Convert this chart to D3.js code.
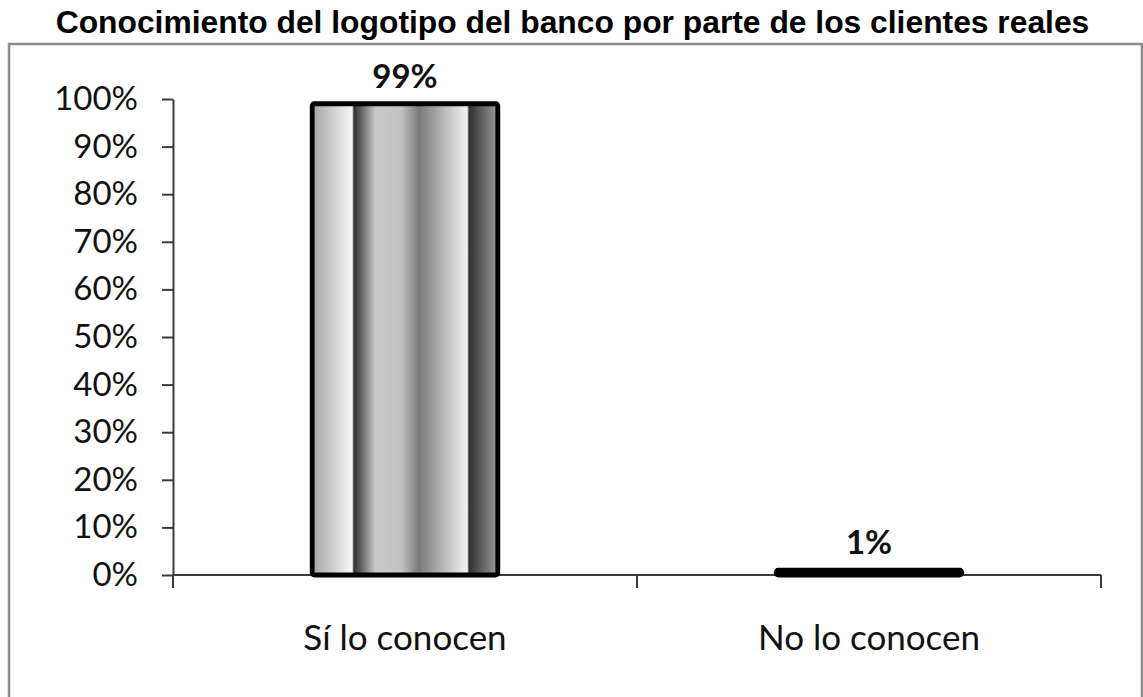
<!DOCTYPE html>
<html>
<head>
<meta charset="utf-8">
<script src="https://cdn.jsdelivr.net/npm/d3@7"></script>
<style>
  html, body { margin: 0; padding: 0; background: #fff; }
  svg { display: block; }
</style>
</head>
<body>
<svg id="chart" width="1143" height="697"></svg>
<script>
// Chart data
const categories = ["Sí lo conocen", "No lo conocen"];
const values = [0.99, 0.01];
const valueLabels = ["99%", "1%"];
const yTicks = [0, 0.1, 0.2, 0.3, 0.4, 0.5, 0.6, 0.7, 0.8, 0.9, 1.0];
const title = "Conocimiento del logotipo del banco por parte de los clientes reales";

const W = 1143, H = 697;
const plot = { left: 173, right: 1101, top: 99, bottom: 575 };

const svg = d3.select("#chart");

// Cylinder-like banded grey fill used by the columns
const defs = svg.append("defs");
const grad = defs.append("linearGradient")
  .attr("id", "barFill")
  .attr("x1", "0").attr("y1", "0").attr("x2", "1").attr("y2", "0");
[
  [0.00, "#a4a4a4"],
  [0.215, "#f6f6f6"],
  [0.225, "#2e2e2e"],
  [0.34, "#c9c9c9"],
  [0.48, "#c2c2c2"],
  [0.575, "#7a7a7a"],
  [0.835, "#f2f2f2"],
  [0.845, "#303030"],
  [1.00, "#9c9c9c"]
].forEach(([o, c]) => grad.append("stop").attr("offset", o).attr("stop-color", c));

// Outer chart frame
svg.append("rect")
  .attr("x", 9).attr("y", 44)
  .attr("width", 1133).attr("height", 700)
  .attr("fill", "none")
  .attr("stroke", "#8a8a8a")
  .attr("stroke-width", 2.5);

// Title
svg.append("text")
  .attr("x", W / 2 + 1).attr("y", 33)
  .attr("text-anchor", "middle")
  .attr("font-family", "'Liberation Sans', Arial, sans-serif")
  .attr("font-weight", "bold")
  .attr("font-size", 31.8)
  .attr("fill", "#000")
  .text(title);

// Scales
const x = d3.scaleBand()
  .domain(categories)
  .range([plot.left, plot.right])
  .paddingInner(0.6)
  .paddingOuter(0.3);

const y = d3.scaleLinear()
  .domain([0, 1])
  .range([plot.bottom, plot.top]);

const axisColor = "#3a3a3a";
const labelFont = "Lato, 'Open Sans', sans-serif";

// Y axis
const yAxis = svg.append("g")
  .attr("transform", `translate(${plot.left},0)`)
  .call(d3.axisLeft(y)
    .tickValues(yTicks)
    .tickFormat(d3.format(".0%"))
    .tickSize(11)
    .tickSizeOuter(0)
    .tickPadding(24));
yAxis.select(".domain").attr("stroke", axisColor).attr("stroke-width", 2);
yAxis.selectAll(".tick line").attr("stroke", axisColor).attr("stroke-width", 2);
yAxis.selectAll(".tick text")
  .attr("font-family", labelFont)
  .attr("font-size", 33)
  .attr("fill", "#111");

// X axis baseline with ticks at category boundaries
const step = x.step();
const boundaries = categories.map(c => x(c) - step * x.paddingInner() / 2)
  .concat([plot.right]);
const xAxis = svg.append("g");
xAxis.append("line")
  .attr("x1", plot.left).attr("x2", plot.right)
  .attr("y1", y(0)).attr("y2", y(0))
  .attr("stroke", axisColor).attr("stroke-width", 2);
xAxis.selectAll("line.bt")
  .data(boundaries)
  .join("line")
  .attr("class", "bt")
  .attr("x1", d => d).attr("x2", d => d)
  .attr("y1", y(0)).attr("y2", y(0) + 13)
  .attr("stroke", axisColor).attr("stroke-width", 2);
xAxis.selectAll("text")
  .data(categories)
  .join("text")
  .attr("x", d => x(d) + x.bandwidth() / 2)
  .attr("y", 650)
  .attr("text-anchor", "middle")
  .attr("font-family", labelFont)
  .attr("font-size", 35)
  .attr("fill", "#111")
  .text(d => d);

// Columns
svg.append("g").selectAll("rect")
  .data(values)
  .join("rect")
  .attr("x", (d, i) => x(categories[i]))
  .attr("y", d => y(d))
  .attr("width", x.bandwidth())
  .attr("height", d => y(0) - y(d))
  .attr("rx", 2)
  .attr("fill", "url(#barFill)")
  .attr("stroke", "#000")
  .attr("stroke-width", 4.8);

// Value labels
svg.append("g").selectAll("text")
  .data(values)
  .join("text")
  .attr("x", (d, i) => x(categories[i]) + x.bandwidth() / 2)
  .attr("y", d => y(d) - 16)
  .attr("text-anchor", "middle")
  .attr("font-family", labelFont)
  .attr("font-weight", "bold")
  .attr("font-size", 33)
  .attr("fill", "#111")
  .text((d, i) => valueLabels[i]);
</script>
</body>
</html>
